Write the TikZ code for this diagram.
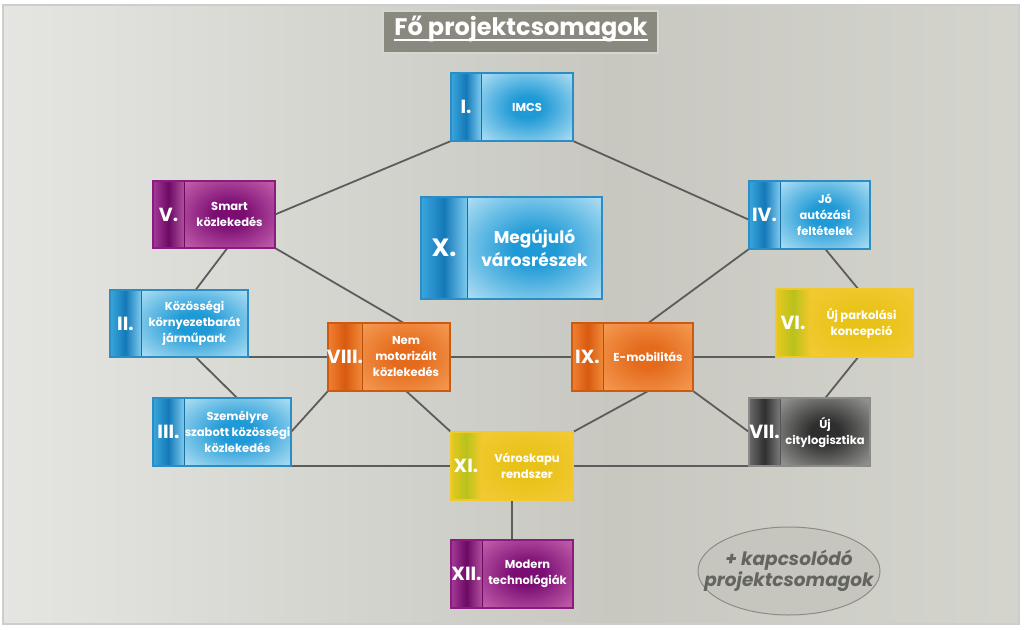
\documentclass[tikz,border=0pt]{standalone}
\usepackage{fontspec}
\setmainfont{Poppins}
\usetikzlibrary{calc,shapes.geometric}
\definecolor{bgmid}{HTML}{C8C8C1}
\definecolor{bgend}{HTML}{E4E4DE}
\definecolor{framec}{HTML}{CDCDCB}
\definecolor{linec}{HTML}{5C5C5C}
% blue
\definecolor{bluSL}{HTML}{3AA6DC}\definecolor{bluSM}{HTML}{1479B8}\definecolor{bluSR}{HTML}{7CCAEE}
\definecolor{bluIn}{HTML}{1F9AD6}\definecolor{bluOut}{HTML}{D4F0FC}\definecolor{bluBd}{HTML}{2B8DC4}\definecolor{bluDiv}{HTML}{1A6FA0}
% purple
\definecolor{purSL}{HTML}{A43A98}\definecolor{purSM}{HTML}{6C0A64}\definecolor{purSR}{HTML}{B0509E}
\definecolor{purIn}{HTML}{7A0C72}\definecolor{purOut}{HTML}{D877BC}\definecolor{purBd}{HTML}{8A1C80}\definecolor{purDiv}{HTML}{6A0A62}
% orange
\definecolor{orSL}{HTML}{F08030}\definecolor{orSM}{HTML}{D85A10}\definecolor{orSR}{HTML}{F08A38}
\definecolor{orIn}{HTML}{E46A1C}\definecolor{orOut}{HTML}{F8A860}\definecolor{orBd}{HTML}{CC5A12}\definecolor{orDiv}{HTML}{B84E0E}
% yellow
\definecolor{yelSL}{HTML}{E6C81E}\definecolor{yelSM}{HTML}{B9C21C}\definecolor{yelSR}{HTML}{F2C82C}
\definecolor{yelIn}{HTML}{E8C218}\definecolor{yelOut}{HTML}{F6CC3C}\definecolor{yelBd}{HTML}{F0C830}\definecolor{yelDiv}{HTML}{F2C82C}
% gray
\definecolor{grySL}{HTML}{6A6A6A}\definecolor{grySM}{HTML}{303030}\definecolor{grySR}{HTML}{7A7A7A}
\definecolor{gryIn}{HTML}{2E2E2E}\definecolor{gryOut}{HTML}{B4B4B0}\definecolor{gryBd}{HTML}{8A8A88}\definecolor{gryDiv}{HTML}{555555}
\colorlet{glowin}{blue}\colorlet{glowout}{white}
\pgfdeclareradialshading[glowin,glowout]{boxglow}{\pgfpoint{0bp}{0bp}}{color(0bp)=(glowin); color(8bp)=(glowin); color(42bp)=(glowout); color(72bp)=(glowout)}
\pgfdeclarehorizontalshading{bggrad}{100bp}{color(0bp)=(white); color(12bp)=(white!75!bgmid); color(55bp)=(bgmid); color(100bp)=(bgend)}
\pgfdeclarelayer{back}\pgfdeclarelayer{lines}
\pgfsetlayers{back,lines,main}
\tikzset{
  pkshape/.style={rectangle, inner sep=0pt, outer sep=0pt},
  numtext/.style={text=white, inner sep=0pt, font=\bfseries\fontsize{19}{19}\selectfont},
  desctext/.style={text=white, inner sep=0pt, align=center, font=\bfseries\fontsize{11.5}{16}\selectfont},
  conn/.style={draw=linec, line width=1.8pt},
}
\newcommand\pkbox[9]{%
  \node[pkshape, minimum width=#4pt, minimum height=#5pt] (#1) at (#2,#3) {};
  \colorlet{glowin}{#7In}\colorlet{glowout}{#7Out}%
  \shade[left color=#7SL, right color=#7SR, middle color=#7SM] (#1.north west) rectangle ($(#1.south west)+(#6,0)$);
  \shade[shading=boxglow] ($(#1.north west)+(#6,0)$) rectangle (#1.south east);
  \draw[#7Div, line width=1pt] ($(#1.north west)+(#6,0)$) -- ($(#1.south west)+(#6,0)$);
  \draw[#7Bd, line width=1.2pt] (#1.north west) rectangle (#1.south east);
  \node[numtext] (#1n) at ($(#1.west)+({#6/2},0)$) {#8};
  \node[desctext] (#1t) at ($(#1.west)+({(#4+#6)/2},0)$) {#9};
}
\begin{document}
\begin{tikzpicture}[x=1pt,y=-1pt]
\useasboundingbox (0,0) rectangle (1024,629);
\begin{pgfonlayer}{back}
\fill[white] (0,0) rectangle (1024,629);
\shade[shading=bggrad] (3,5) rectangle (1019,624);
\draw[framec, line width=1.5pt] (3,5) rectangle (1019,624);
\end{pgfonlayer}

% title
\node[rectangle, fill={rgb,255:red,138;green,137;blue,127}, draw={rgb,255:red,214;green,214;blue,206}, line width=1.2pt,
      minimum width=275pt, minimum height=42pt, inner sep=0pt] (ttl) at (520.5,32) {};
\node[text=white, inner sep=0pt, font=\bfseries\fontsize{24}{24}\selectfont] (ttlt) at (521,29.5) {Fő projektcsomagok};
\draw[white, line width=1.4pt] ([yshift=-4pt]ttlt.base west) -- ([yshift=-4pt]ttlt.base east);

% boxes
\pkbox{I}{512}{107}{122}{68}{30}{blu}{I.}{IMCS}
\pkbox{V}{214}{214.5}{122}{67}{31}{pur}{V.}{Smart\\közlekedés}
\begin{scope}[desctext/.append style={font=\bfseries\fontsize{17}{23}\selectfont},
              numtext/.append style={font=\bfseries\fontsize{25}{25}\selectfont}]
\pkbox{X}{511.5}{248}{181}{102}{46}{blu}{X.}{Megújuló\\városrészek}
\end{scope}
\pkbox{IV}{809.5}{215}{121}{68}{31}{blu}{IV.}{Jó\\autózási\\feltételek}
\pkbox{II}{179}{323.5}{138}{67}{31}{blu}{II.}{Közösségi\\környezetbarát\\járműpark}
\pkbox{VI}{844.5}{323}{137}{68}{34}{yel}{VI.}{Új parkolási\\koncepció}
\pkbox{VIII}{389}{357}{122}{68}{34}{or}{VIII.}{Nem\\motorizált\\közlekedés}
\pkbox{IX}{632.5}{357}{121}{68}{31}{or}{IX.}{E-mobilitás}
\pkbox{III}{222}{432}{138}{68}{31}{blu}{III.}{Személyre\\szabott közösségi\\közlekedés}
\pkbox{VII}{809.5}{432}{121}{68}{31}{gry}{VII.}{Új\\citylogisztika}
\pkbox{XI}{512}{466}{122}{68}{30}{yel}{XI.}{Városkapu\\rendszer}
\pkbox{XII}{512}{574}{122}{68}{31}{pur}{XII.}{Modern\\technológiák}

% ellipse
\node[ellipse, fill={rgb,255:red,198;green,198;blue,190}, draw={rgb,255:red,140;green,140;blue,134}, line width=1pt,
      minimum width=182pt, minimum height=88pt, inner sep=0pt] (rel) at (789,571) {};
\node[text={rgb,255:red,100;green,100;blue,96}, align=center, inner sep=0pt,
      font=\bfseries\itshape\fontsize{18.5}{21}\selectfont] (relt) at (rel.center) {+ kapcsolódó\\projektcsomagok};

% connectors
\begin{pgfonlayer}{lines}
\path[conn] (I.south west) -- (V.east);
\path[conn] (I.south east) -- ($(IV.north west)!0.57!(IV.south west)$);
\path[conn] ($(V.south west)!0.61!(V.south east)$) -- ($(II.north west)!0.62!(II.north east)$);
\path[conn] (V.south east) -- ($(VIII.north west)!0.62!(VIII.north east)$);
\path[conn] (II.south east) -- (II.south east -| VIII.west);
\path[conn] ($(II.south west)!0.62!(II.south east)$) -- ($(III.north west)!0.61!(III.north east)$);
\path[conn] (VIII.south west) -- (III.east);
\path[conn] ($(VIII.south west)!0.64!(VIII.south east)$) -- (XI.north west);
\path[conn] (VIII.east) -- (IX.west);
\path[conn] (III.south east) -- (III.south east -| XI.west);
\path[conn] (XI.east) -- (XI.east -| VII.west);
\path[conn] (XI.north east) -- ($(IX.south west)!0.63!(IX.south east)$);
\path[conn] ($(IX.north west)!0.63!(IX.north east)$) -- (IV.south west);
\path[conn] (IX.east) -- (IX.east -| VI.west);
\path[conn] (IX.south east) -- (VII.west);
\path[conn] ($(IV.south west)!0.63!(IV.south east)$) -- ($(VI.north west)!0.6!(VI.north east)$);
\path[conn] ($(VI.south west)!0.6!(VI.south east)$) -- ($(VII.north west)!0.63!(VII.north east)$);
\path[conn] (XI.south) -- (XII.north);
\end{pgfonlayer}
\end{tikzpicture}
\end{document}
